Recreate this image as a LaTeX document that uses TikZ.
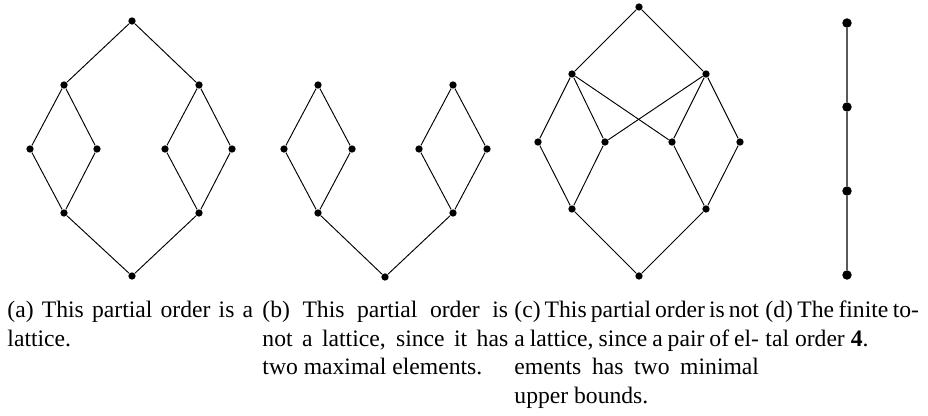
\documentclass[tikz,border=0pt]{standalone}
\usepackage{fontspec}
\setmainfont{Liberation Serif}
\usepackage{tikz}
\tikzset{
  elem/.style={circle,fill=black,draw=none,inner sep=0pt,minimum size=3.1pt},
  chainelem/.style={elem,minimum size=4pt},
  cover/.style={draw=black,line width=0.4pt},
  chaincover/.style={draw=black!65,line width=0.55pt},
  caption/.style={anchor=base west,inner sep=0pt,align=justify,text width=104pt,
    font=\fontsize{10}{12}\selectfont}
}

\begin{document}
\begin{tikzpicture}[x=0.4233pt,y=-0.4233pt]
  \useasboundingbox (0,0) rectangle (928,416);

  % (a) lattice
  \node[elem] (atop) at (132,21) {};
  \node[elem] (aul) at (64,85) {};
  \node[elem] (aur) at (199,85) {};
  \node[elem] (am1) at (30,149) {};
  \node[elem] (am2) at (97,149) {};
  \node[elem] (am3) at (165,149) {};
  \node[elem] (am4) at (232,149) {};
  \node[elem] (all) at (64,213) {};
  \node[elem] (alr) at (199,213) {};
  \node[elem] (abot) at (132,276) {};

  \draw[cover] (abot) -- (all) -- (am1) -- (aul) -- (atop) -- (aur) -- (am4) -- (alr) -- (abot);
  \draw[cover] (all) -- (am2) -- (aul);
  \draw[cover] (alr) -- (am3) -- (aur);

  % (b) two maximal elements
  \node[elem] (bul) at (318,85) {};
  \node[elem] (bur) at (453,85) {};
  \node[elem] (bm1) at (284,149) {};
  \node[elem] (bm2) at (352,149) {};
  \node[elem] (bm3) at (419,149) {};
  \node[elem] (bm4) at (487,149) {};
  \node[elem] (bll) at (318,213) {};
  \node[elem] (blr) at (453,213) {};
  \node[elem] (bbot) at (385,277) {};

  \draw[cover] (bbot) -- (bll) -- (bm1) -- (bul) -- (bm2) -- (bll);
  \draw[cover] (bbot) -- (blr) -- (bm4) -- (bur) -- (bm3) -- (blr);

  % (c) two minimal upper bounds
  \node[elem] (ctop) at (639,7) {};
  \node[elem] (cul) at (572,74) {};
  \node[elem] (cur) at (706,74) {};
  \node[elem] (cm1) at (538,142) {};
  \node[elem] (cm2) at (605,142) {};
  \node[elem] (cm3) at (672,142) {};
  \node[elem] (cm4) at (740,142) {};
  \node[elem] (cll) at (572,209) {};
  \node[elem] (clr) at (706,209) {};
  \node[elem] (cbot) at (639,276) {};

  \draw[cover] (cbot) -- (cll) -- (cm1) -- (cul) -- (ctop) -- (cur) -- (cm4) -- (clr) -- (cbot);
  \draw[cover] (cll) -- (cm2) -- (cul) -- (cm3) -- (clr);
  \draw[cover] (cm2) -- (cur) -- (cm3);

  % (d) chain
  \node[chainelem] (d1) at (847,23) {};
  \node[chainelem] (d2) at (847,107) {};
  \node[chainelem] (d3) at (847,191) {};
  \node[chainelem] (d4) at (847,275) {};

  \draw[chaincover] (d1) -- (d2) -- (d3) -- (d4);

  % captions
  \node[caption] (capa) at (7,318) {(a) This partial order is a\linebreak lattice.};
  \node[caption] (capb) at (262,318) {(b) This partial order is\linebreak not a lattice, since it has\linebreak two maximal elements.};
  \node[caption,text width=103.5pt] (capc) at (514,318) {(c) This partial order is not\linebreak a lattice, since a pair of el-\linebreak ements has two minimal\linebreak upper bounds.};
  \node[caption,text width=65pt] (capd) at (765,318) {(d) The finite to-\linebreak tal order \textbf{4}.};
\end{tikzpicture}
\end{document}
